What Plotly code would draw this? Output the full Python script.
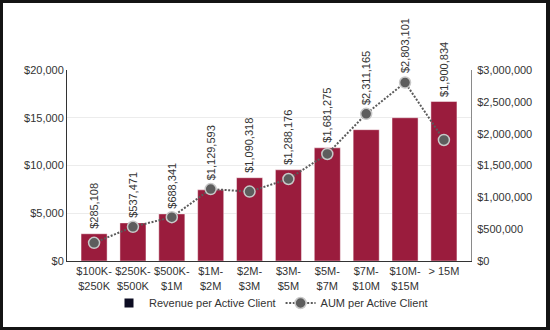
import plotly.graph_objects as go

# Client segments by assets under management
segments = ["$100K-<br>$250K", "$250K-<br>$500K", "$500K-<br>$1M", "$1M-<br>$2M",
            "$2M-<br>$3M", "$3M-<br>$5M", "$5M-<br>$7M", "$7M-<br>$10M",
            "$10M-<br>$15M", "> 15M"]

# Revenue per active client (left axis, USD)
revenue = [2850, 3990, 4930, 7450, 8720, 9550, 11850, 13750, 15000, 16700]

# AUM per active client (right axis, USD)
aum = [285108, 537471, 688341, 1129593, 1090318, 1288176, 1681275, 2311165, 2803101, 1900834]

REV_MAX = 20000
AUM_MAX = 3000000

BAR_COLOR = "#9a1c3d"
TEXT_COLOR = "#333333"
FONT = "Liberation Sans, Arial, sans-serif"

fig = go.Figure()

fig.add_trace(go.Bar(
    x=segments, y=revenue, name="Revenue per Active Client",
    marker=dict(color=BAR_COLOR, line=dict(color="rgba(255,255,255,0.45)", width=1)),
    showlegend=False, yaxis="y",
))

# legend entry for the revenue series (dark square swatch)
fig.add_trace(go.Scatter(
    x=[None], y=[None], mode="markers", name="Revenue per Active Client",
    marker=dict(symbol="square", size=9, color="#0c0c22"),
))

fig.add_trace(go.Scatter(
    x=segments, y=aum, name="AUM per Active Client", mode="lines+markers",
    line=dict(color="#5a5a5a", width=2, dash="2px,1.6px"),
    marker=dict(size=11, color="#5d5d5d", line=dict(color="#c8c8c8", width=1.5)),
    yaxis="y2",
))

# Rotated value labels sitting above whichever mark is higher
annotations = []
for seg, rev, a in zip(segments, revenue, aum):
    if rev / REV_MAX >= a / AUM_MAX:
        yref, yval, shift = "y", rev, 3
    else:
        yref, yval, shift = "y2", a, 7
    annotations.append(dict(
        x=seg, y=yval, xref="x", yref=yref, text=f"${a:,.0f}",
        textangle=-90, showarrow=False, xanchor="center", yanchor="bottom",
        yshift=shift, font=dict(family=FONT, size=11, color=TEXT_COLOR),
    ))

L, R, T, B = 67, 79, 70, 69
W, H = 550, 330
pw, ph = W - L - R, H - T - B

fig.update_layout(
    width=W, height=H,
    margin=dict(l=L, r=R, t=T, b=B, pad=0),
    paper_bgcolor="#141414",
    plot_bgcolor="white",
    font=dict(family=FONT, size=11, color=TEXT_COLOR),
    bargap=0.33,
    annotations=annotations,
    shapes=[dict(
        type="rect", xref="paper", yref="paper", layer="below",
        x0=(3 - L) / pw, x1=(W - 4 - L) / pw,
        y0=-(H - 3 - (T + ph)) / ph, y1=(T + ph - 3) / ph,
        fillcolor="white", line=dict(width=0),
    )],
    xaxis=dict(
        showline=True, linecolor="#333333", linewidth=1,
        showgrid=False, ticks="", tickfont=dict(size=11),
        tickangle=0,
    ),
    yaxis=dict(
        range=[0, REV_MAX], dtick=5000, tickprefix="$", tickformat=",",
        showline=True, linecolor="#333333", linewidth=1,
        gridcolor="#ececec", zeroline=False, ticks="",
    ),
    yaxis2=dict(
        range=[0, AUM_MAX], dtick=500000, tickprefix="$", tickformat=",",
        overlaying="y", side="right",
        showline=True, linecolor="#8a8a8a", linewidth=1,
        showgrid=False, zeroline=False, ticks="",
        ticklabelstandoff=3,
    ),
    legend=dict(
        orientation="h", x=(271 - L) / pw, xanchor="center",
        y=-(303 - (T + ph)) / ph, yanchor="middle",
        bgcolor="rgba(0,0,0,0)", font=dict(size=11),
        itemwidth=30, tracegroupgap=0,
    ),
)

fig.write_html("out.html")
